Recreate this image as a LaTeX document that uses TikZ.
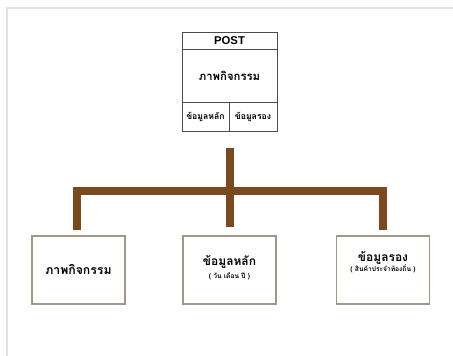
\documentclass[tikz,border=0pt]{standalone}
\usepackage{fontspec}
\setmainfont{Liberation Sans}
\newfontfamily\thaifont[Script=Thai]{Loma}
\usetikzlibrary{calc}
\definecolor{trunkbrown}{HTML}{7A4A1F}
\definecolor{boxedge}{HTML}{A39686}
\definecolor{frameedge}{HTML}{E2E2E2}
\tikzset{
  px/.style={x=0.75pt,y=-0.75pt},
  headcell/.style={draw=black!70,line width=0.6pt,fill=white,inner sep=0pt,
    minimum width=95*0.75pt,minimum height=17*0.75pt,font=\bfseries\fontsize{8.5}{9}\selectfont},
  bodycell/.style={draw=black!70,line width=0.6pt,fill=white,inner sep=0pt,
    minimum width=95*0.75pt,minimum height=53*0.75pt,font=\thaifont\bfseries\fontsize{8.5}{9}\selectfont},
  smallcell/.style={draw=black!70,line width=0.6pt,fill=white,inner sep=0pt,
    minimum height=29*0.75pt,font=\thaifont\bfseries\fontsize{6.5}{7}\selectfont},
  leafbox/.style={draw=boxedge,line width=1.3pt,fill=white,inner sep=0pt,
    minimum width=93*0.75pt,minimum height=68*0.75pt,align=center},
  leaftitle/.style={font=\thaifont\bfseries\fontsize{9}{10}\selectfont},
  leafnote/.style={font=\thaifont\bfseries\fontsize{5}{6}\selectfont},
  conn/.style={draw=trunkbrown,line width=5.5pt,line join=miter},
}
\begin{document}
\begin{tikzpicture}[px]
\useasboundingbox (0,0) rectangle (453,356);
% faint page frame
\draw[frameedge,line width=1.2pt] (7,356) -- (7,8) -- (453,8);

% POST card
\node[headcell] (posthead) at (229.5,40.5) {POST};
\node[bodycell] (postbody) at (229.5,75.5) {ภาพกิจกรรม};
\node[smallcell,minimum width=47*0.75pt] (mainfield) at (205.5,116.5) {ข้อมูลหลัก};
\node[smallcell,minimum width=48*0.75pt] (subfield) at (253,116.5) {ข้อมูลรอง};

% lower boxes
\node[leafbox,font=\thaifont\bfseries\fontsize{9.2}{10}\selectfont] (leafA) at (78.5,270) {ภาพกิจกรรม};
\node[leafbox] (leafB) at (229.5,270) {};
\node[leafbox] (leafC) at (383,270) {};
\node[leaftitle] (leafBt) at (229.5,262) {ข้อมูลหลัก};
\node[leafnote] (leafBn) at (229.5,276) {( วัน เดือน ปี )};
\node[leaftitle] (leafCt) at (383,258) {ข้อมูลรอง};
\node[leafnote] (leafCn) at (383,269) {( สินค้าประจำท้องถิ่น )};

% brown connectors
\coordinate (trunktop) at (230,148);
\coordinate (hub) at (230,191);
\coordinate (dropA) at ($(leafA.north)+(-1.5,-5)$);
\coordinate (dropB) at ($(leafB.north)+(0.5,-8)$);
\coordinate (dropC) at ($(leafC.north)+(0,-5)$);
\path[conn] (dropA) |- (hub) -| (dropC);
\path[conn] (trunktop) -- (dropB);
\end{tikzpicture}
\end{document}
